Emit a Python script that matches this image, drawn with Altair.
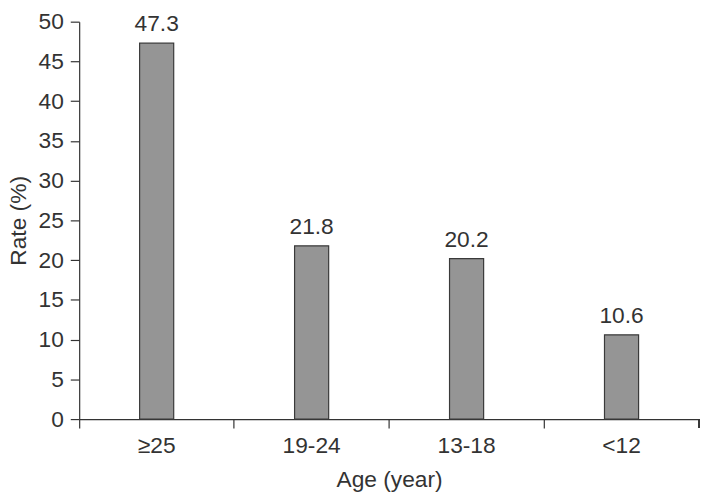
import altair as alt
import pandas as pd

categories = ["≥25", "19-24", "13-18", "<12"]
rates = [47.3, 21.8, 20.2, 10.6]
labels = ["47.3", "21.8", "20.2", "10.6"]

df = pd.DataFrame({"age": categories, "rate": rates, "label": labels})

FONT = "Liberation Sans"
TXT = "#333333"
FS = 23

x_enc = alt.X("age:N", sort=categories, title="Age (year)",
              scale=alt.Scale(paddingInner=0, paddingOuter=0),
              axis=alt.Axis(labelAngle=0, bandPosition=0, tickSize=9, labelPadding=7,
                            titlePadding=11, domainColor=TXT, tickColor=TXT))
y_enc = alt.Y("rate:Q", title="Rate (%)",
              scale=alt.Scale(domain=[0, 50]),
              axis=alt.Axis(values=list(range(0, 55, 5)), tickSize=9, labelPadding=7,
                            grid=False, titleX=-49, domainColor=TXT, tickColor=TXT))

bars = alt.Chart(df).mark_bar(width=alt.RelativeBandSize(0.22), color="#959595",
                              stroke="#3a3a3a", strokeWidth=1.2).encode(x=x_enc, y=y_enc)
text = alt.Chart(df).mark_text(dy=-19, font=FONT, fontSize=FS, color=TXT).encode(
    x=alt.X("age:N", sort=categories), y="rate:Q", text="label:N")
end_tick = alt.Chart(df).mark_rule(color=TXT, strokeWidth=1.2).encode(
    x=alt.value(627), y=alt.value(402), y2=alt.value(411))

chart = alt.layer(bars, text, end_tick).properties(
    width=627, height=402, autosize=alt.AutoSizeParams(type="none"),
    padding={"left": 72, "top": 11, "right": 2, "bottom": 78}
).configure_view(stroke=None).configure_axis(
    labelFont=FONT, titleFont=FONT, labelFontSize=FS, titleFontSize=FS,
    labelColor=TXT, titleColor=TXT, titleFontWeight="normal", domainWidth=1.2, tickWidth=1.2)

chart.save("out.html", embed_options={"renderer": "svg", "actions": False})
